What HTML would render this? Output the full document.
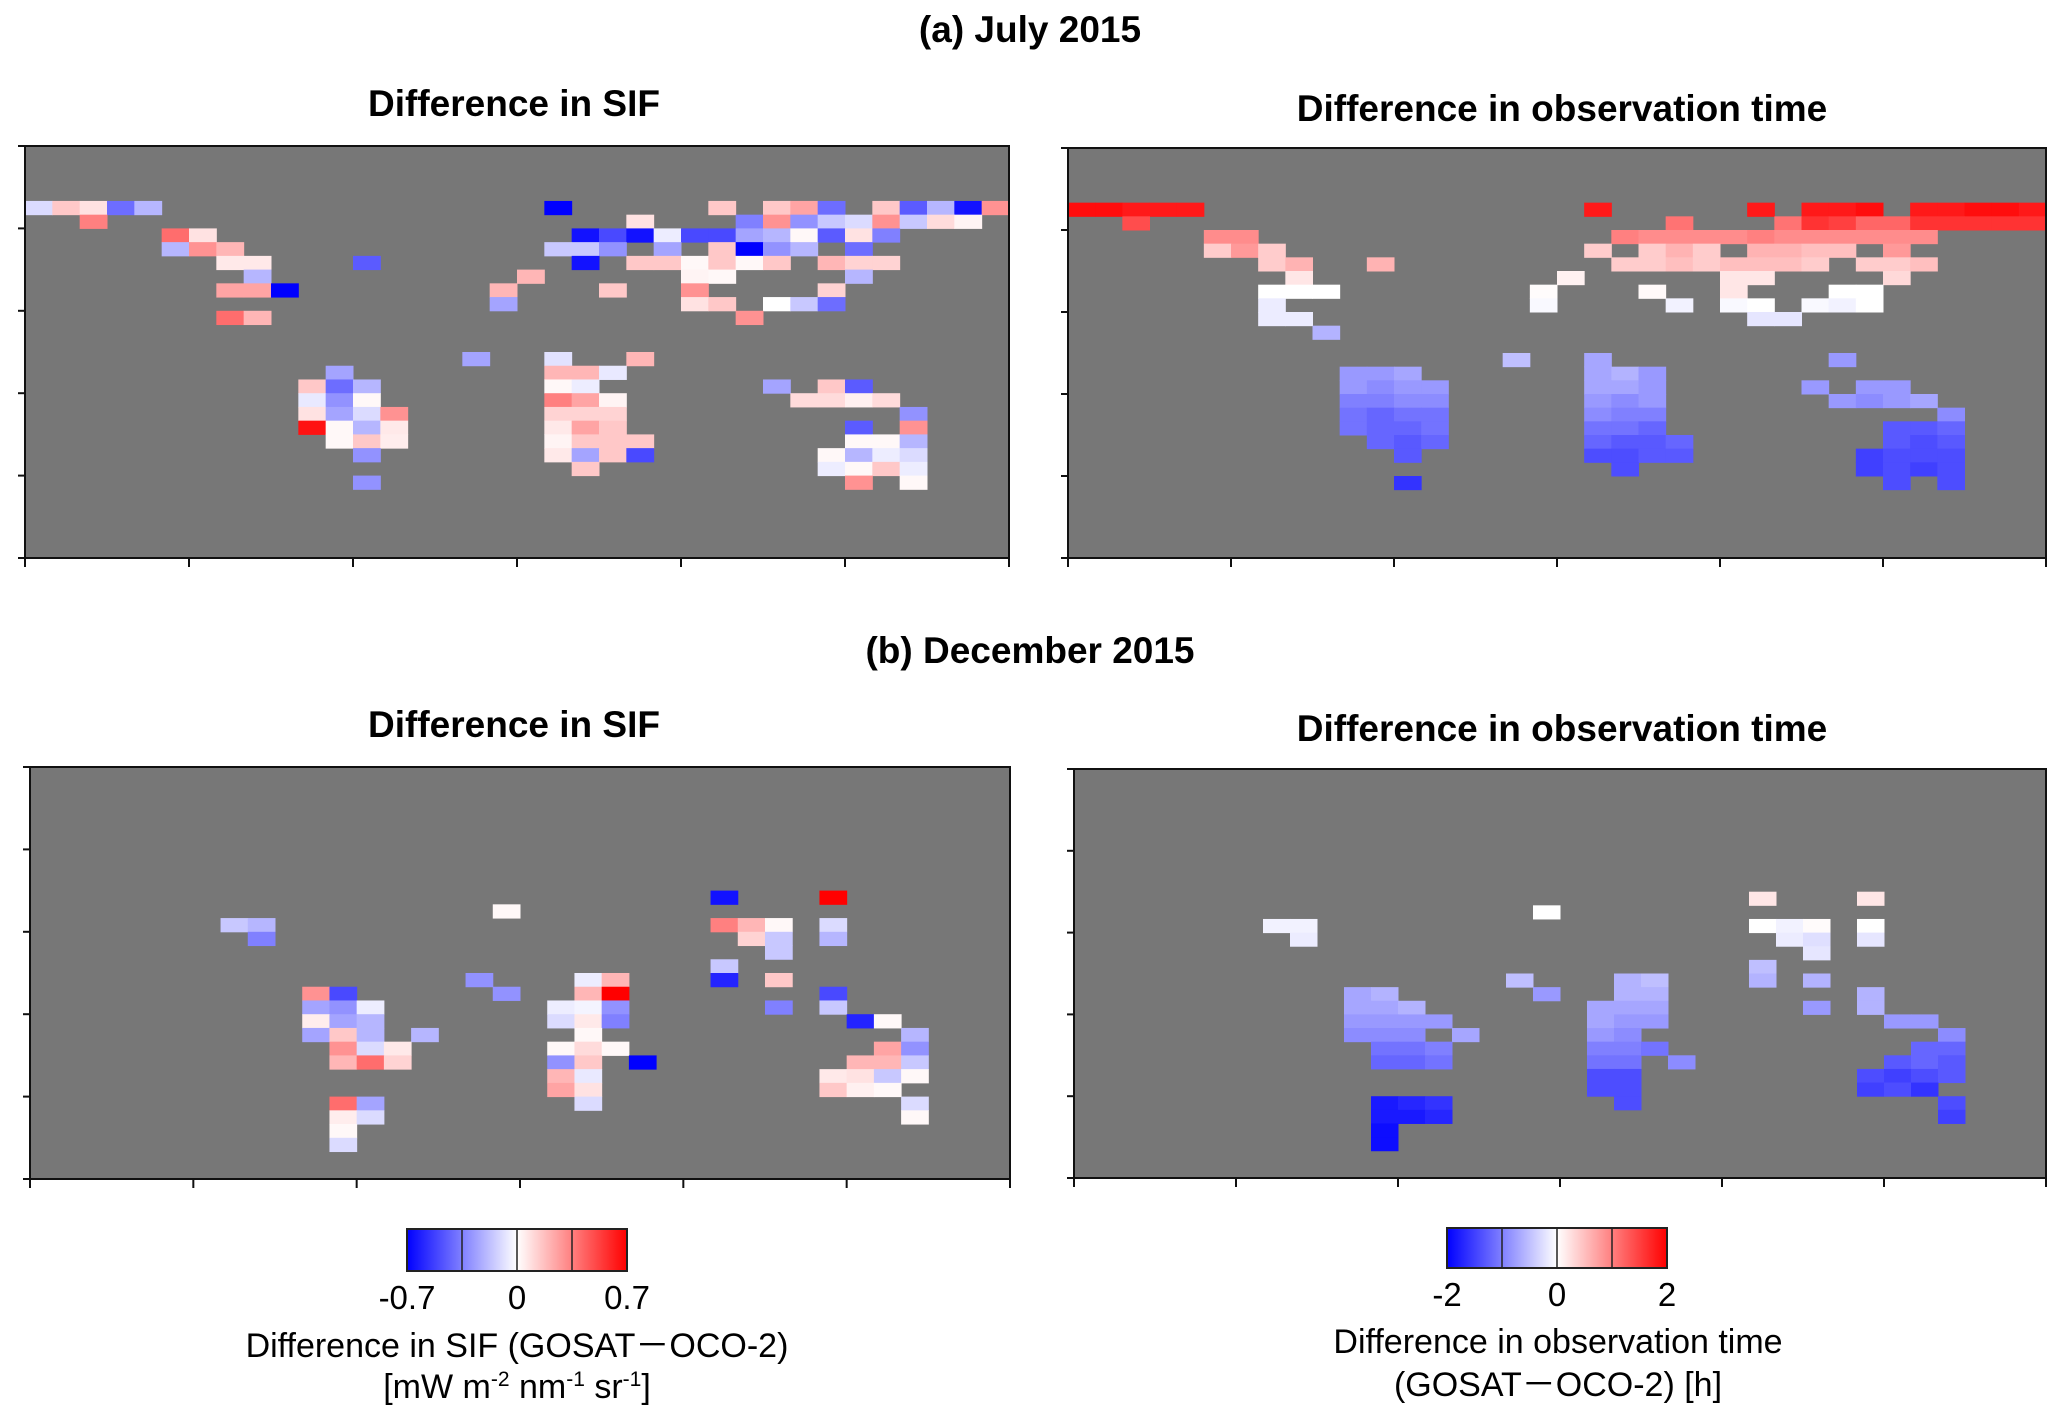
<!DOCTYPE html>
<html><head><meta charset="utf-8"><style>
html,body{margin:0;padding:0;background:#fff;}
svg{display:block;font-family:"Liberation Sans",Arial,sans-serif;}
</style></head><body>
<svg id="fig" width="2067" height="1420" viewBox="0 0 2067 1420" xmlns="http://www.w3.org/2000/svg">
<defs>
<linearGradient id="gb" x1="0" x2="1"><stop offset="0" stop-color="#0000ff"/><stop offset="1" stop-color="#ffffff"/></linearGradient>
<linearGradient id="gr" x1="0" x2="1"><stop offset="0" stop-color="#ffffff"/><stop offset="1" stop-color="#ff0000"/></linearGradient>
</defs>
<text x="1030" y="42" font-size="37" font-weight="bold" text-anchor="middle">(a) July 2015</text>
<text x="1030" y="663" font-size="37" font-weight="bold" text-anchor="middle">(b) December 2015</text>
<g id="panels"></g>
<g>
<rect x="407" y="1229" width="110" height="42" fill="url(#gb)"/>
<rect x="517" y="1229" width="110" height="42" fill="url(#gr)"/>
<rect x="407" y="1229" width="220" height="42" fill="none" stroke="#222" stroke-width="2"/>
<line x1="462" y1="1229" x2="462" y2="1271" stroke="#222" stroke-width="1.5"/>
<line x1="517" y1="1229" x2="517" y2="1271" stroke="#222" stroke-width="1.5"/>
<line x1="572" y1="1229" x2="572" y2="1271" stroke="#222" stroke-width="1.5"/>
<text x="407" y="1309" font-size="33" text-anchor="middle">-0.7</text>
<text x="517" y="1309" font-size="33" text-anchor="middle">0</text>
<text x="627" y="1309" font-size="33" text-anchor="middle">0.7</text>
<text x="517" y="1357" font-size="34" text-anchor="middle">Difference in SIF (GOSAT－OCO-2)</text>
<text x="517" y="1398" font-size="34" text-anchor="middle">[mW m<tspan font-size="21" dy="-12">-2</tspan><tspan dy="12"> nm</tspan><tspan font-size="21" dy="-12">-1</tspan><tspan dy="12"> sr</tspan><tspan font-size="21" dy="-12">-1</tspan><tspan dy="12">]</tspan></text>
</g>
<g>
<rect x="1447" y="1228" width="110" height="40" fill="url(#gb)"/>
<rect x="1557" y="1228" width="110" height="40" fill="url(#gr)"/>
<rect x="1447" y="1228" width="220" height="40" fill="none" stroke="#222" stroke-width="2"/>
<line x1="1502" y1="1228" x2="1502" y2="1268" stroke="#222" stroke-width="1.5"/>
<line x1="1557" y1="1228" x2="1557" y2="1268" stroke="#222" stroke-width="1.5"/>
<line x1="1612" y1="1228" x2="1612" y2="1268" stroke="#222" stroke-width="1.5"/>
<text x="1447" y="1306" font-size="33" text-anchor="middle">-2</text>
<text x="1557" y="1306" font-size="33" text-anchor="middle">0</text>
<text x="1667" y="1306" font-size="33" text-anchor="middle">2</text>
<text x="1558" y="1353" font-size="34" text-anchor="middle">Difference in observation time</text>
<text x="1558" y="1396" font-size="34" text-anchor="middle">(GOSAT－OCO-2) [h]</text>
</g>
</svg>
<script>
// cells: [column index (10 deg lon from -180), row index (6 deg lat from 90N), value]
const julySif = [
[0,4,-0.1],[1,4,0.15],[2,4,0.08],[3,4,-0.4],[4,4,-0.2],[19,4,-0.7],[25,4,0.15],[27,4,0.15],[28,4,0.25],[29,4,-0.4],[31,4,0.15],[32,4,-0.45],[33,4,-0.2],[34,4,-0.65],[35,4,0.3],
[2,5,0.35],[22,5,0.08],[26,5,-0.35],[27,5,0.3],[28,5,-0.3],[29,5,-0.15],[30,5,-0.1],[31,5,0.3],[32,5,-0.15],[33,5,0.1],[34,5,0.03],
[5,6,0.4],[6,6,0.08],[20,6,-0.65],[21,6,-0.5],[22,6,-0.65],[23,6,-0.05],[24,6,-0.5],[25,6,-0.5],[26,6,-0.25],[27,6,-0.2],[28,6,0.02],[29,6,-0.45],[30,6,0.08],[31,6,-0.35],
[5,7,-0.2],[6,7,0.3],[7,7,0.2],[19,7,-0.15],[20,7,-0.15],[21,7,-0.3],[23,7,-0.25],[25,7,0.15],[26,7,-0.7],[27,7,-0.3],[28,7,-0.2],[30,7,-0.4],
[7,8,0.06],[8,8,0.06],[12,8,-0.45],[20,8,-0.65],[22,8,0.15],[23,8,0.15],[24,8,0.02],[25,8,0.15],[26,8,0.02],[27,8,0.15],[29,8,0.2],[30,8,0.12],[31,8,0.12],
[8,9,-0.2],[18,9,0.2],[24,9,0.03],[25,9,0.02],[30,9,-0.2],
[7,10,0.25],[8,10,0.25],[9,10,-0.7],[17,10,0.2],[21,10,0.15],[24,10,0.3],[29,10,0.12],
[17,11,-0.25],[24,11,0.08],[25,11,0.15],[27,11,0],[28,11,-0.15],[29,11,-0.4],
[7,12,0.4],[8,12,0.2],[26,12,0.3],
[16,15,-0.25],[19,15,-0.08],[22,15,0.2],
[11,16,-0.25],[19,16,0.2],[20,16,0.2],[21,16,-0.06],
[10,17,0.15],[11,17,-0.4],[12,17,-0.2],[19,17,0.02],[20,17,-0.05],[27,17,-0.25],[29,17,0.15],[30,17,-0.45],
[10,18,-0.06],[11,18,-0.3],[12,18,0.02],[19,18,0.35],[20,18,0.25],[21,18,0.03],[28,18,0.1],[29,18,0.1],[30,18,0.04],[31,18,0.1],
[10,19,0.08],[11,19,-0.25],[12,19,-0.1],[13,19,0.3],[19,19,0.12],[20,19,0.12],[21,19,0.12],[32,19,-0.3],
[10,20,0.65],[11,20,0.02],[12,20,-0.2],[13,20,0.06],[19,20,0.06],[20,20,0.25],[21,20,0.15],[30,20,-0.45],[32,20,0.3],
[11,21,0.02],[12,21,0.15],[13,21,0.05],[19,21,0.03],[20,21,0.15],[21,21,0.15],[22,21,0.15],[30,21,0.02],[31,21,0.02],[32,21,-0.2],
[12,22,-0.3],[19,22,0.06],[20,22,-0.25],[21,22,0.15],[22,22,-0.5],[29,22,0.02],[30,22,-0.2],[31,22,-0.05],[32,22,-0.1],
[20,23,0.15],[29,23,-0.05],[30,23,0.02],[31,23,0.15],[32,23,-0.05],
[12,24,-0.3],[30,24,0.3],[32,24,0.02]
];
const julyTime = [
[0,4,1.9],[1,4,1.9],[2,4,1.8],[3,4,1.8],[4,4,1.8],[19,4,1.8],[25,4,1.8],[27,4,1.8],[28,4,1.8],[29,4,1.9],[31,4,1.8],[32,4,1.8],[33,4,1.9],[34,4,1.9],[35,4,1.8],
[2,5,1.4],[22,5,1.1],[26,5,1.1],[27,5,1.6],[28,5,1.5],[29,5,1.2],[30,5,1.2],[31,5,1.6],[32,5,1.6],[33,5,1.6],[34,5,1.6],[35,5,1.6],
[5,6,0.9],[6,6,0.9],[20,6,1],[21,6,0.9],[22,6,0.9],[23,6,0.9],[24,6,0.9],[25,6,1],[26,6,0.9],[27,6,0.9],[28,6,0.9],[29,6,0.9],[30,6,0.9],[31,6,0.9],
[5,7,0.4],[6,7,0.8],[7,7,0.4],[19,7,0.4],[21,7,0.4],[22,7,0.6],[23,7,0.4],[25,7,0.6],[26,7,0.6],[27,7,0.5],[28,7,0.5],[30,7,0.8],
[7,8,0.4],[8,8,0.6],[11,8,0.6],[20,8,0.4],[21,8,0.4],[22,8,0.5],[23,8,0.4],[24,8,0.5],[25,8,0.5],[26,8,0.5],[27,8,0.4],[29,8,0.4],[30,8,0.4],[31,8,0.5],
[8,9,0.2],[18,9,0.1],[24,9,0.2],[25,9,0.2],[30,9,0.3],
[7,10,0],[8,10,0],[9,10,0],[17,10,0.02],[21,10,0.05],[24,10,0.2],[28,10,0],[29,10,0],
[7,11,-0.15],[17,11,-0.05],[22,11,-0.1],[24,11,-0.05],[25,11,0],[27,11,-0.05],[28,11,-0.1],[29,11,0],
[7,12,-0.15],[8,12,-0.15],[25,12,-0.2],[26,12,-0.2],
[9,13,-0.6],
[16,15,-0.5],[19,15,-0.7],[28,15,-0.8],
[10,16,-0.8],[11,16,-0.8],[12,16,-0.7],[19,16,-0.7],[20,16,-0.6],[21,16,-0.8],
[10,17,-0.8],[11,17,-0.9],[12,17,-0.8],[13,17,-0.8],[19,17,-0.7],[20,17,-0.7],[21,17,-0.8],[27,17,-0.8],[29,17,-0.8],[30,17,-0.8],
[10,18,-1],[11,18,-1],[12,18,-0.9],[13,18,-0.9],[19,18,-0.8],[20,18,-0.9],[21,18,-0.8],[28,18,-0.8],[29,18,-0.9],[30,18,-0.8],[31,18,-0.7],
[10,19,-1.1],[11,19,-1.2],[12,19,-1.1],[13,19,-1.1],[19,19,-0.9],[20,19,-1],[21,19,-1],[32,19,-0.9],
[10,20,-1.1],[11,20,-1.2],[12,20,-1.2],[13,20,-1.1],[19,20,-1.1],[20,20,-1.1],[21,20,-1.2],[30,20,-1.3],[31,20,-1.3],[32,20,-1.2],
[11,21,-1.2],[12,21,-1.3],[13,21,-1.2],[19,21,-1.2],[20,21,-1.3],[21,21,-1.3],[22,21,-1.2],[30,21,-1.3],[31,21,-1.4],[32,21,-1.3],
[12,22,-1.3],[19,22,-1.4],[20,22,-1.4],[21,22,-1.3],[22,22,-1.3],[29,22,-1.5],[30,22,-1.4],[31,22,-1.4],[32,22,-1.4],
[20,23,-1.4],[29,23,-1.5],[30,23,-1.4],[31,23,-1.5],[32,23,-1.4],
[12,24,-1.6],[30,24,-1.4],[32,24,-1.4]
];
const decSif = [
[25,9,-0.65],[29,9,0.7],
[17,10,0.02],
[7,11,-0.15],[8,11,-0.2],[25,11,0.35],[26,11,0.2],[27,11,0.02],[29,11,-0.1],
[8,12,-0.35],[26,12,0.12],[27,12,-0.15],[29,12,-0.2],
[27,13,-0.15],
[25,14,-0.15],
[16,15,-0.3],[20,15,-0.05],[21,15,0.2],[25,15,-0.6],[27,15,0.15],
[10,16,0.3],[11,16,-0.5],[17,16,-0.3],[20,16,0.2],[21,16,0.7],[29,16,-0.5],
[10,17,-0.25],[11,17,-0.3],[12,17,-0.05],[19,17,-0.05],[20,17,-0.03],[21,17,-0.3],[27,17,-0.35],[29,17,-0.15],
[10,18,0.05],[11,18,-0.25],[12,18,-0.2],[19,18,-0.1],[20,18,0.06],[21,18,-0.35],[30,18,-0.6],[31,18,0.02],
[10,19,-0.25],[11,19,0.15],[12,19,-0.2],[14,19,-0.2],[20,19,0.02],[32,19,-0.2],
[11,20,0.3],[12,20,-0.1],[13,20,0.06],[19,20,0.02],[20,20,0.1],[21,20,0.02],[31,20,0.25],[32,20,-0.3],
[11,21,0.2],[12,21,0.4],[13,21,0.12],[19,21,-0.3],[20,21,0.15],[22,21,-0.7],[30,21,0.2],[31,21,0.2],[32,21,-0.15],
[19,22,0.2],[20,22,-0.06],[29,22,0.06],[30,22,0.08],[31,22,-0.15],[32,22,0.02],
[19,23,0.25],[20,23,0.08],[29,23,0.15],[30,23,0.04],[31,23,0.02],
[11,24,0.4],[12,24,-0.25],[20,24,-0.1],[32,24,-0.1],
[11,25,0.05],[12,25,-0.1],[32,25,0.02],
[11,26,0.02],
[11,27,-0.1]
];
const decTime = [
[25,9,0.2],[29,9,0.2],
[17,10,0],
[7,11,-0.1],[8,11,-0.1],[25,11,0],[26,11,-0.1],[27,11,0.03],[29,11,0],
[8,12,-0.15],[26,12,-0.15],[27,12,-0.25],[29,12,-0.2],
[27,13,-0.2],
[25,14,-0.5],
[16,15,-0.5],[20,15,-0.6],[21,15,-0.5],[25,15,-0.6],[27,15,-0.6],
[10,16,-0.7],[11,16,-0.6],[17,16,-0.8],[20,16,-0.6],[21,16,-0.6],[29,16,-0.6],
[10,17,-0.7],[11,17,-0.7],[12,17,-0.6],[19,17,-0.7],[20,17,-0.7],[21,17,-0.7],[27,17,-0.8],[29,17,-0.6],
[10,18,-0.8],[11,18,-0.8],[12,18,-0.8],[13,18,-0.8],[19,18,-0.7],[20,18,-0.8],[21,18,-0.8],[30,18,-0.8],[31,18,-0.8],
[10,19,-0.9],[11,19,-0.9],[12,19,-0.9],[14,19,-0.7],[19,19,-0.8],[20,19,-0.9],[32,19,-0.9],
[11,20,-1.1],[12,20,-1.1],[13,20,-1],[19,20,-1],[20,20,-1],[21,20,-1.1],[31,20,-1.2],[32,20,-1.2],
[11,21,-1.2],[12,21,-1.2],[13,21,-1.1],[19,21,-1.1],[20,21,-1.1],[22,21,-0.9],[30,21,-1.3],[31,21,-1.2],[32,21,-1.3],
[19,22,-1.4],[20,22,-1.4],[29,22,-1.4],[30,22,-1.5],[31,22,-1.4],[32,22,-1.3],
[19,23,-1.4],[20,23,-1.4],[29,23,-1.5],[30,23,-1.4],[31,23,-1.6],
[11,24,-1.8],[12,24,-1.7],[13,24,-1.6],[20,24,-1.4],[32,24,-1.4],
[11,25,-1.8],[12,25,-1.8],[13,25,-1.7],[32,25,-1.5],
[11,26,-1.9],
[11,27,-1.9]
];
const panelTitles = ["Difference in SIF","Difference in observation time","Difference in SIF","Difference in observation time"];
const panelRanges = [0.7, 2, 0.7, 2];

const NS='http://www.w3.org/2000/svg';
const root=document.getElementById('panels');
const boxes=[[25,146,1009,558,514,116],[1068,148,2046,558,1562,121],[30,767,1010,1179,514,737],[1074,769,2046,1178,1562,741]];
const datasets=[julySif,julyTime,decSif,decTime];
const names=['july-sif-map','july-time-map','december-sif-map','december-time-map'];
function mk(t,a,p){const e=document.createElementNS(NS,t);for(const k in a)e.setAttribute(k,a[k]);p.appendChild(e);return e;}
function color(v,r){let t=Math.max(-1,Math.min(1,v/r));
 if(t<0){const c=Math.round(255*(1+t));return `rgb(${c},${c},255)`;}
 const c=Math.round(255*(1-t));return `rgb(255,${c},${c})`;}
datasets.forEach((data,i)=>{
 const [x0,y0,x1,y1,tx,ty]=boxes[i];
 const g=mk('g',{},root);
 
 
 const t=mk('text',{x:tx,y:ty,'font-size':37,'font-weight':'bold','text-anchor':'middle'},g);
 t.textContent=panelTitles[i];
 
 
 mk('rect',{x:x0,y:y0,width:x1-x0,height:y1-y0,fill:'#777777'},g);
 const xs=c=>x0+(c*10)/360*(x1-x0);
 const ys=r=>y0+(r*6)/180*(y1-y0);
 data.forEach(d=>{
  const cell=mk('rect',{x:xs(d[0]),y:ys(d[1]),width:xs(d[0]+1)-xs(d[0])+0.5,height:ys(d[1]+1)-ys(d[1])+0.5,fill:color(d[2],panelRanges[i])},g);
  
  
 });
 mk('rect',{x:x0,y:y0,width:x1-x0,height:y1-y0,fill:'none',stroke:'#111','stroke-width':2},g);
 for(let k=0;k<=6;k++){const x=x0+k*(x1-x0)/6;mk('line',{x1:x,x2:x,y1:y1,y2:y1+9,stroke:'#111','stroke-width':2},g);}
 for(let k=0;k<=5;k++){const y=y0+k*(y1-y0)/5;mk('line',{x1:x0-7,x2:x0,y1:y,y2:y,stroke:'#111','stroke-width':2},g);}
});
</script>
</body></html>
